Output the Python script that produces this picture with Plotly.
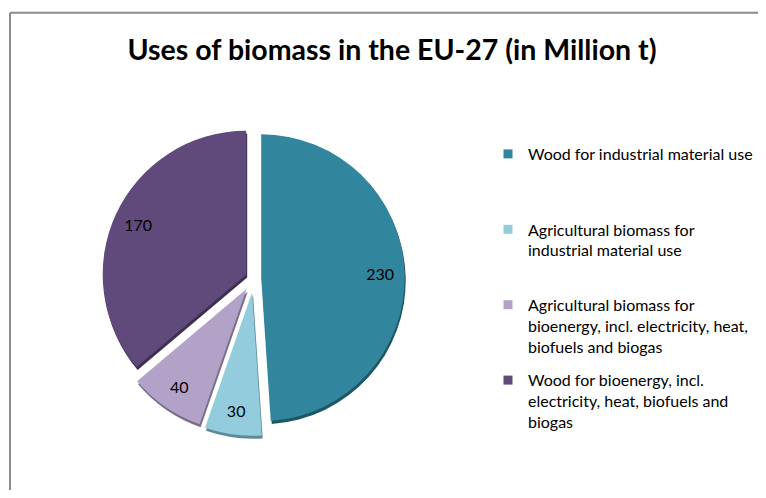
import plotly.graph_objects as go

labels = [
    "Wood for industrial material use",
    "Agricultural biomass for<br>industrial material use",
    "Agricultural biomass for<br>bioenergy, incl. electricity, heat,<br>biofuels and biogas",
    "Wood for bioenergy, incl.<br>electricity, heat, biofuels and<br>biogas",
]
values = [230, 30, 40, 170]
colors = ["#31859C", "#93CDDD", "#B3A2C7", "#604A7B"]
shadow_colors = ["#1F5664", "#5E8A96", "#7A6D8A", "#3E2F50"]
pulls = [0.05, 0.1, 0.09, 0.06]
pad = ["<br>\u00a0<br>\u00a0", "<br>\u00a0", "", ""]
title_text = "<b>Uses of biomass in the EU-27 (in Million t)</b>"

# page body has an 8px margin; figure sized to fill the rest of the 766x498 window
OFF = 8
W, H = 766 - 2 * OFF, 498 - 2 * OFF


def px(x):
    return (x - OFF) / W


def py(y):
    return 1 - (y - OFF) / H


cx, cy, half = 255, 278, 158.5


def dom(dx=0, dy=0):
    return dict(x=[px(cx + dx - half), px(cx + dx + half)],
                y=[py(cy + dy + half), py(cy + dy - half)])


fig = go.Figure()
# shadow
fig.add_trace(go.Pie(
    labels=["s%d" % i for i in range(len(values))], values=values, sort=False,
    direction="clockwise", rotation=0, pull=pulls,
    marker=dict(colors=shadow_colors, line=dict(width=0)),
    textinfo="none", hoverinfo="skip", showlegend=False, domain=dom(1, 3),
))
# main pie
fig.add_trace(go.Pie(
    labels=labels, values=values, sort=False, direction="clockwise",
    rotation=0, pull=pulls, marker=dict(colors=colors, line=dict(width=0)),
    textinfo="none", showlegend=False, domain=dom(),
))
# transparent ring carrying the value labels near the outer edge
fig.add_trace(go.Pie(
    labels=["t%d" % i for i in range(len(values))], values=values, sort=False,
    direction="clockwise", rotation=0, pull=pulls, hole=0.66,
    marker=dict(colors=["rgba(0,0,0,0)"] * len(values), line=dict(width=0)),
    textinfo="value", textposition="inside", insidetextorientation="horizontal",
    textfont=dict(family="Lato", size=16, color="#000000"),
    hoverinfo="skip", showlegend=False, domain=dom(),
))
# legend entries
for i, (lab, p, c) in enumerate(zip(labels, pad, colors)):
    fig.add_trace(go.Scatter(
        x=[None], y=[None], mode="markers", name=lab + p, legendgroup="g%d" % i,
        marker=dict(symbol="square", size=9, color=c), showlegend=True,
    ))

fig.update_layout(
    width=W, height=H,
    margin=dict(l=0, r=0, t=0, b=0),
    paper_bgcolor="white", plot_bgcolor="white",
    xaxis=dict(visible=False), yaxis=dict(visible=False),
    title=dict(text=title_text, x=px(392), xanchor="center", y=py(50), yanchor="middle",
               yref="container", font=dict(family="Lato", size=28.5, color="#000000")),
    legend=dict(x=px(490), xanchor="left", y=py(137), yanchor="top",
                valign="top", font=dict(family="Lato", size=16, color="#000000"),
                itemclick=False, traceorder="grouped", tracegroupgap=10),
    shapes=[
        dict(type="line", xref="paper", yref="paper", x0=px(10), x1=1.02,
             y0=py(12.7), y1=py(12.7), line=dict(color="#8c8c8c", width=2)),
        dict(type="line", xref="paper", yref="paper", x0=px(10), x1=px(10),
             y0=-0.02, y1=py(12.7), line=dict(color="#8c8c8c", width=2)),
    ],
)

fig.write_html("out.html")
